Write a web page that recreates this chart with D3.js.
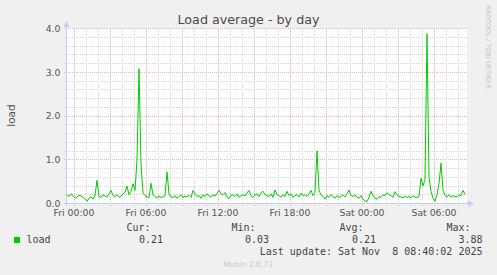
<!DOCTYPE html>
<html>
	<head>
		<script src="https://d3js.org/d3.v7.min.js"></script>
		<style type="text/css">
			body {
				margin: 0;
				background: #F0F0F0;
			}
			svg {
				font-family: "DejaVu Sans", sans-serif;
			}
			.mono {
				font-family: "DejaVu Sans Mono", monospace;
				font-size: 10px;
				fill: #444;
				white-space: pre;
			}
			.minor {
				stroke: #d6d6d6;
				stroke-dasharray: 1,1;
				shape-rendering: crispEdges;
			}
			.major {
				stroke: #ebb3b3;
				stroke-dasharray: 1,1;
				shape-rendering: crispEdges;
			}
			.tick-label {
				font-size: 9.3px;
				fill: #555;
			}
		</style>
	</head>
	<body>
		<script type="text/javascript">
			// load average, one value every 10 minutes starting Thu 23:25
			var loadValues = [
				0.21, 0.16, 0.22, 0.18, 0.12, 0.15, 0.19, 0.17, 0.14, 0.10,
				0.05, 0.12, 0.15, 0.10, 0.18, 0.53, 0.16, 0.14, 0.20, 0.17,
				0.15, 0.22, 0.30, 0.18, 0.16, 0.20, 0.14, 0.17, 0.22, 0.26,
				0.40, 0.20, 0.28, 0.45, 0.30, 1.00, 3.08, 0.90, 0.25, 0.18,
				0.15, 0.13, 0.46, 0.20, 0.16, 0.12, 0.17, 0.14, 0.15, 0.18,
				0.72, 0.22, 0.15, 0.14, 0.18, 0.12, 0.16, 0.20, 0.14, 0.17,
				0.15, 0.19, 0.14, 0.30, 0.22, 0.16, 0.18, 0.12, 0.20, 0.16,
				0.22, 0.18, 0.14, 0.20, 0.17, 0.24, 0.30, 0.22, 0.20, 0.25,
				0.15, 0.11, 0.18, 0.20, 0.16, 0.22, 0.14, 0.18, 0.20, 0.17,
				0.24, 0.30, 0.18, 0.14, 0.20, 0.22, 0.16, 0.24, 0.28, 0.20,
				0.18, 0.16, 0.22, 0.14, 0.31, 0.20, 0.18, 0.15, 0.20, 0.16,
				0.28, 0.18, 0.22, 0.14, 0.18, 0.20, 0.15, 0.24, 0.18, 0.20,
				0.16, 0.22, 0.30, 0.18, 0.25, 1.20, 0.30, 0.20, 0.16, 0.10,
				0.18, 0.14, 0.20, 0.16, 0.12, 0.18, 0.14, 0.16, 0.20, 0.15,
				0.22, 0.31, 0.18, 0.16, 0.20, 0.14, 0.12, 0.18, 0.10, 0.06,
				0.04, 0.14, 0.28, 0.18, 0.12, 0.10, 0.16, 0.14, 0.20, 0.18,
				0.25, 0.20, 0.18, 0.14, 0.27, 0.20, 0.16, 0.15, 0.13, 0.17,
				0.14, 0.16, 0.13, 0.18, 0.15, 0.14, 0.16, 0.58, 0.40, 0.55,
				3.88, 0.60, 0.28, 0.12, 0.05, 0.20, 0.45, 0.92, 0.30, 0.18,
				0.15, 0.20, 0.14, 0.18, 0.16, 0.15, 0.20, 0.18, 0.30, 0.21
			];
			var yTicks = [0, 1, 2, 3, 4];
			var legendHeaders = ["Cur:", "Min:", "Avg:", "Max:"];
			var legendValues = ["0.21", "0.03", "0.21", "3.88"];
			var lastUpdate = "Last update: Sat Nov  8 08:40:02 2025";

			var start = new Date(Date.UTC(2025, 10, 6, 23, 25));
			var end = new Date(Date.UTC(2025, 10, 8, 8, 45));
			var data = loadValues.map(function (v, i) {
				return { t: new Date(start.getTime() + i * 600000), v: v };
			});

			var plot = { left: 67, right: 467, top: 28.5, bottom: 203.5 };

			var x = d3.scaleUtc().domain([start, end]).range([plot.left, plot.right]);
			var y = d3.scaleLinear().domain([0, 4]).range([plot.bottom, plot.top]);

			var svg = d3.select("body").append("svg")
				.attr("width", 497)
				.attr("height", 275);

			svg.append("rect")
				.attr("x", plot.left)
				.attr("y", plot.top)
				.attr("width", plot.right - plot.left)
				.attr("height", plot.bottom - plot.top)
				.attr("fill", "#fff");

			// horizontal grid
			var hMinor = d3.range(0, 4.01, 0.2).filter(function (d) { return Math.abs(d - Math.round(d)) > 0.01; });
			svg.append("g").selectAll("line")
				.data(hMinor)
				.enter().append("line")
				.attr("class", "minor")
				.attr("x1", plot.left - 3).attr("x2", plot.right)
				.attr("y1", function (d) { return y(d); })
				.attr("y2", function (d) { return y(d); });
			svg.append("g").selectAll("line")
				.data(yTicks)
				.enter().append("line")
				.attr("class", "major")
				.attr("x1", plot.left - 3).attr("x2", plot.right)
				.attr("y1", function (d) { return y(d); })
				.attr("y2", function (d) { return y(d); });

			// vertical grid: hours minor, every 3 hours major
			var hours = x.ticks(d3.utcHour.every(1)).filter(function (d) { return d.getUTCHours() % 3 != 0; });
			var majors = x.ticks(d3.utcHour.every(3));
			svg.append("g").selectAll("line")
				.data(hours)
				.enter().append("line")
				.attr("class", "minor")
				.attr("y1", plot.top).attr("y2", plot.bottom + 3)
				.attr("x1", function (d) { return x(d); })
				.attr("x2", function (d) { return x(d); });
			svg.append("g").selectAll("line")
				.data(majors)
				.enter().append("line")
				.attr("class", "major")
				.attr("y1", plot.top).attr("y2", plot.bottom + 3)
				.attr("x1", function (d) { return x(d); })
				.attr("x2", function (d) { return x(d); });

			// axes with arrows
			var axisColor = "#c4cbf5";
			svg.append("line")
				.attr("x1", plot.left - 0.5).attr("x2", plot.left - 0.5)
				.attr("y1", plot.bottom + 3).attr("y2", 25)
				.attr("stroke", axisColor);
			svg.append("path")
				.attr("d", "M" + (plot.left - 3.5) + ",27L" + (plot.left - 0.5) + ",21L" + (plot.left + 2.5) + ",27Z")
				.attr("fill", axisColor);
			svg.append("line")
				.attr("x1", plot.left - 3).attr("x2", 470)
				.attr("y1", plot.bottom).attr("y2", plot.bottom)
				.attr("stroke", axisColor);
			svg.append("path")
				.attr("d", "M468," + (plot.bottom - 3) + "L474," + plot.bottom + "L468," + (plot.bottom + 3) + "Z")
				.attr("fill", axisColor);

			// tick labels
			svg.append("g").selectAll("text")
				.data(yTicks)
				.enter().append("text")
				.attr("class", "tick-label")
				.attr("text-anchor", "end")
				.attr("x", 60.5)
				.attr("y", function (d) { return y(d) + 3.3; })
				.text(function (d) { return d3.format(".1f")(d); });

			var fmt = d3.utcFormat("%a %H:%M");
			svg.append("g").selectAll("text")
				.data(x.ticks(d3.utcHour.every(6)))
				.enter().append("text")
				.attr("class", "tick-label")
				.attr("text-anchor", "middle")
				.attr("x", function (d) { return x(d); })
				.attr("y", 216)
				.text(fmt);

			// the series
			var line = d3.line()
				.x(function (d) { return x(d.t); })
				.y(function (d) { return y(d.v); });
			svg.append("path")
				.datum(data)
				.attr("d", line)
				.attr("fill", "none")
				.attr("stroke", "#00CC00")
				.attr("stroke-width", 1);

			// title and labels
			svg.append("text")
				.attr("x", 248.5).attr("y", 24)
				.attr("text-anchor", "middle")
				.attr("font-size", "12.7px")
				.attr("fill", "#4a4a4a")
				.text("Load average - by day");

			svg.append("text")
				.attr("transform", "translate(15,115.5) rotate(-90)")
				.attr("text-anchor", "middle")
				.attr("font-size", "10.5px")
				.attr("fill", "#555")
				.text("load");

			svg.append("text")
				.attr("transform", "translate(486,5) rotate(90)")
				.attr("font-size", "6.5px")
				.attr("fill", "#c4c4c4")
				.text("RRDTOOL / TOBI OETIKER");

			// legend
			svg.append("rect")
				.attr("x", 14).attr("y", 237)
				.attr("width", 6).attr("height", 6)
				.attr("fill", "#00CC00");
			svg.append("text")
				.attr("class", "mono")
				.attr("x", 26.5).attr("y", 243)
				.text("load");

			var headerEnds = [150.5, 255.5, 363.5, 470.5];
			var valueEnds = [163, 269, 376, 482.5];
			svg.append("g").selectAll("text")
				.data(legendHeaders)
				.enter().append("text")
				.attr("class", "mono")
				.attr("text-anchor", "end")
				.attr("x", function (d, i) { return headerEnds[i]; })
				.attr("y", 231.3)
				.text(function (d) { return d; });
			svg.append("g").selectAll("text")
				.data(legendValues)
				.enter().append("text")
				.attr("class", "mono")
				.attr("text-anchor", "end")
				.attr("x", function (d, i) { return valueEnds[i]; })
				.attr("y", 243)
				.text(function (d) { return d; });
			svg.append("text")
				.attr("class", "mono")
				.attr("text-anchor", "end")
				.attr("x", 482.5).attr("y", 255.3)
				.text(lastUpdate);

			svg.append("text")
				.attr("x", 248).attr("y", 267)
				.attr("text-anchor", "middle")
				.attr("font-size", "7.6px")
				.attr("fill", "#c8c8c8")
				.text("Munin 2.0.73");
		</script>
	</body>
</html>
